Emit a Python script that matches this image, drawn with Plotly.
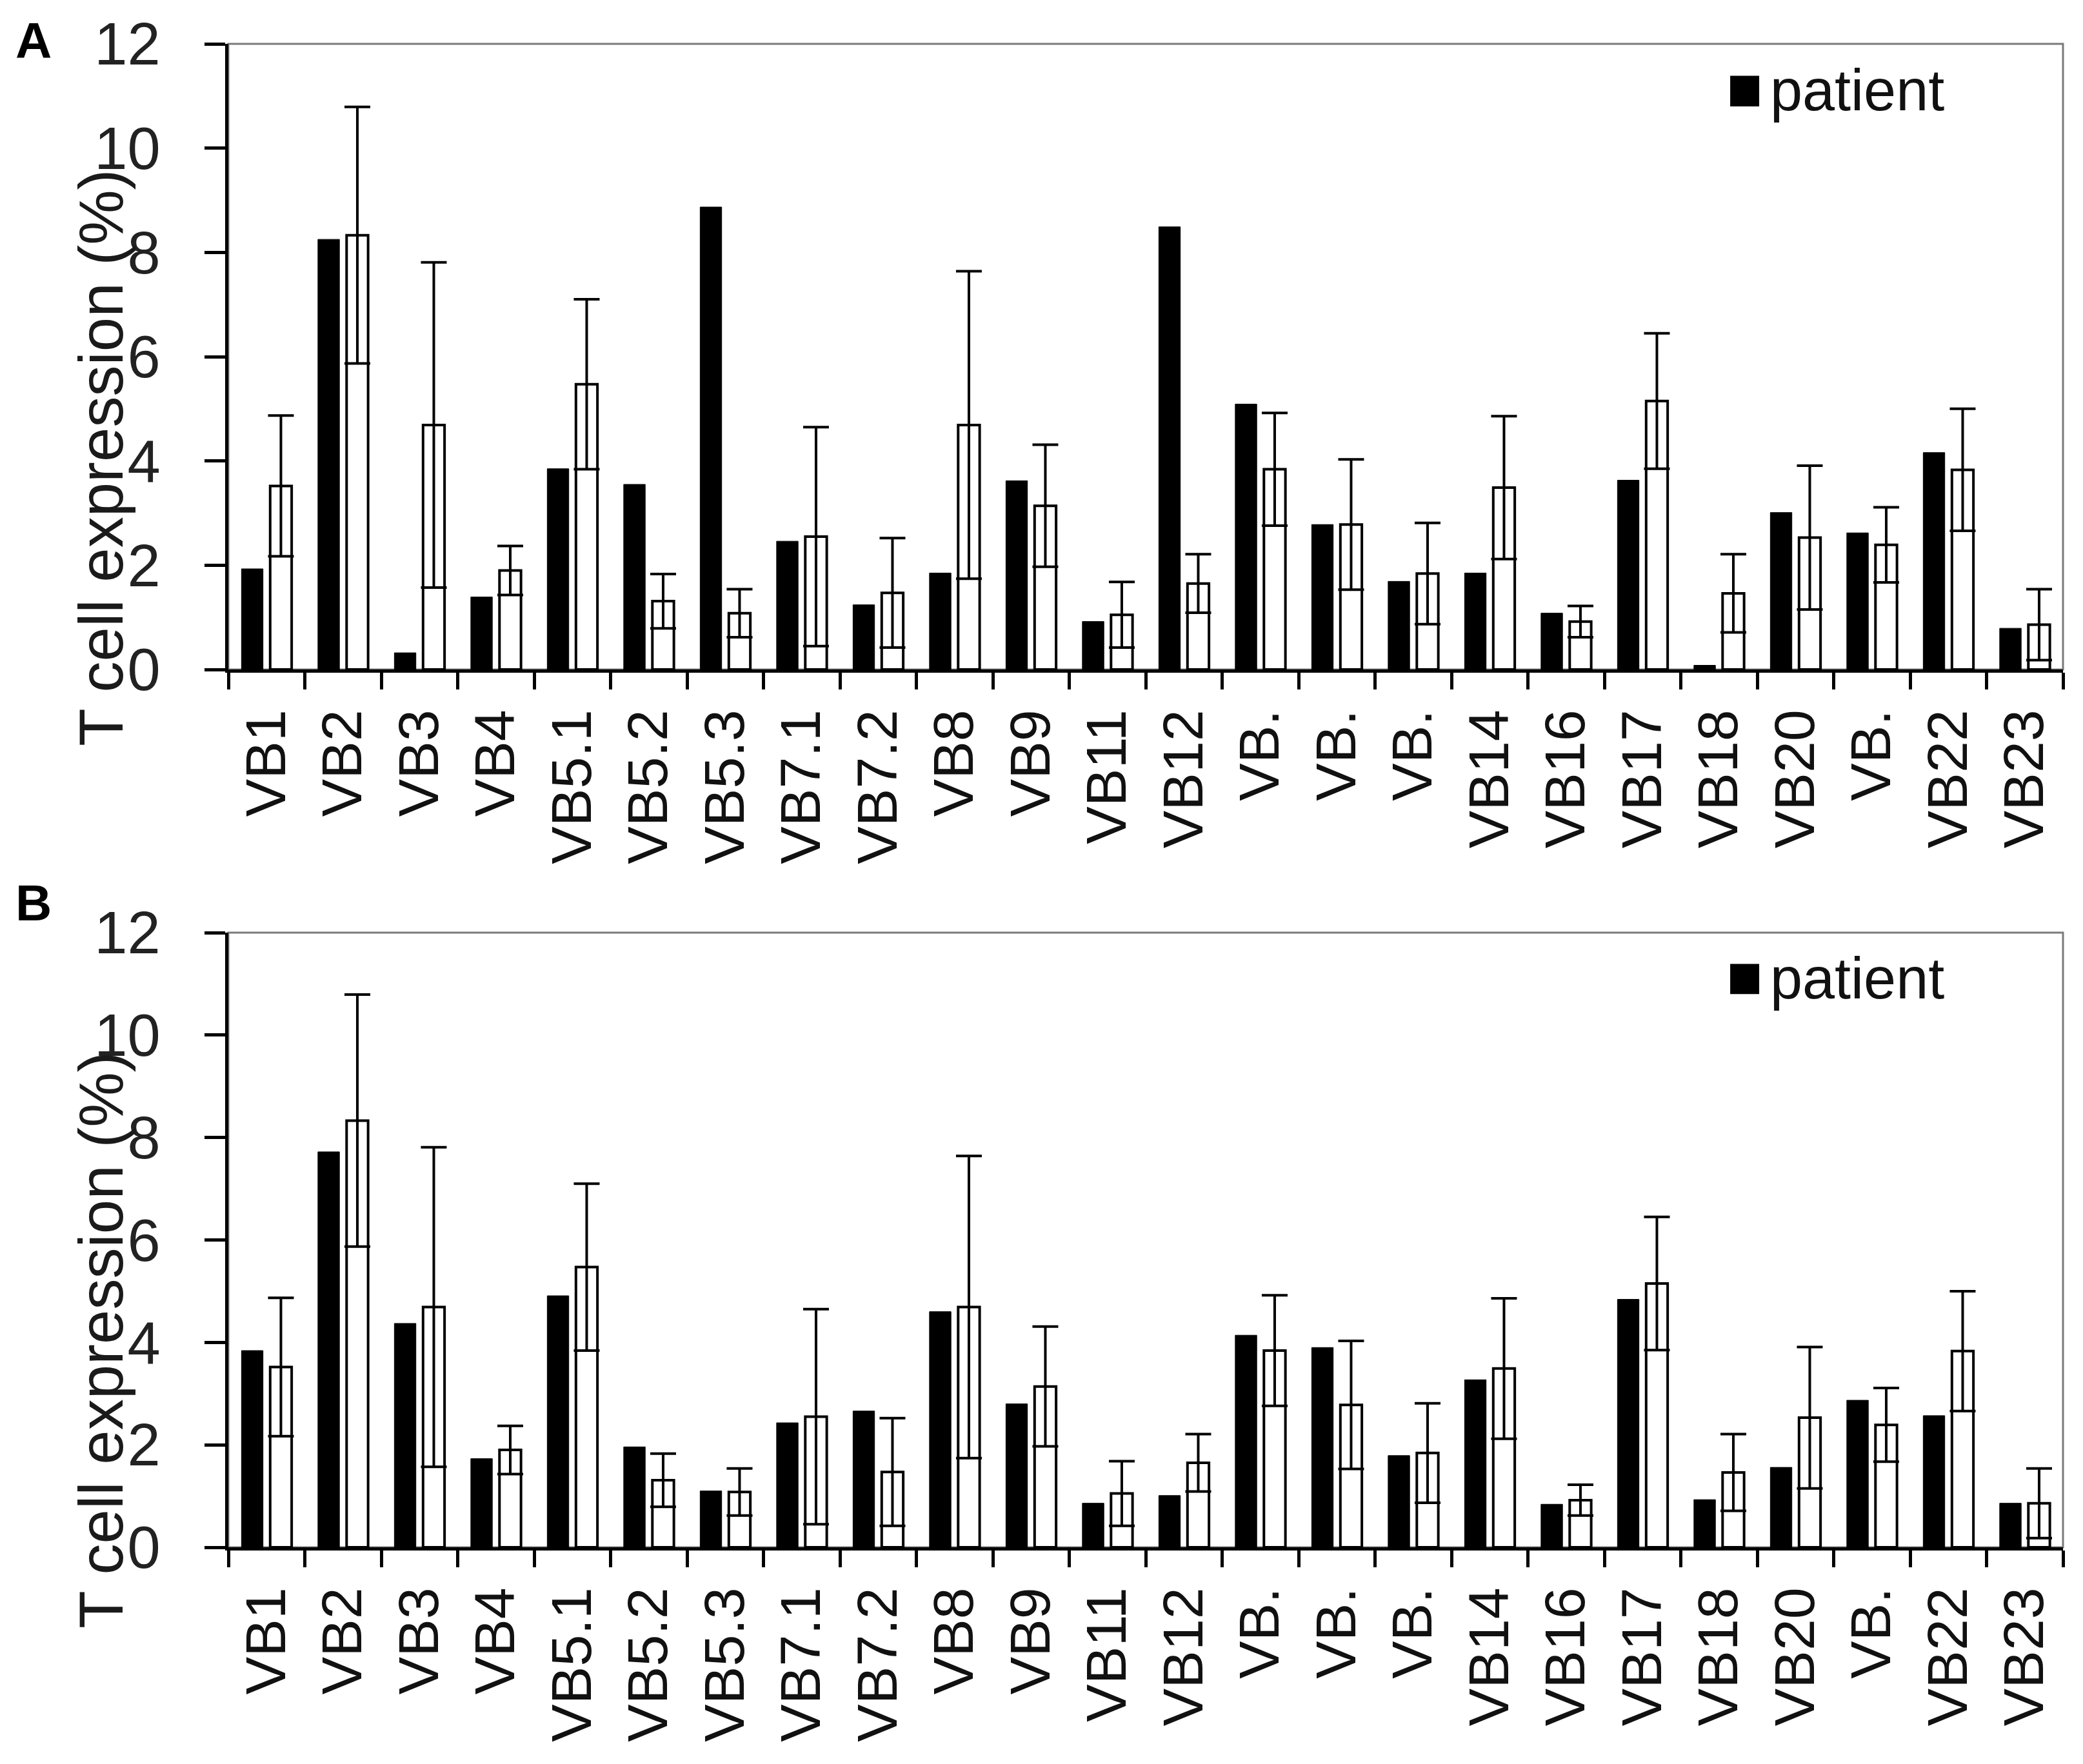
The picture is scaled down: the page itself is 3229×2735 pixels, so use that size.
import plotly.graph_objects as go
from plotly.subplots import make_subplots

# --- data ---
vb_labels = ["VB1", "VB2", "VB3", "VB4", "VB5.1", "VB5.2", "VB5.3", "VB7.1", "VB7.2",
             "VB8", "VB9", "VB11", "VB12", "VB.", "VB.", "VB.", "VB14", "VB16", "VB17",
             "VB18", "VB20", "VB.", "VB22", "VB23"]

# panel A: patient
patient_a = [1.93, 8.25, 0.32, 1.39, 3.85, 3.55, 8.87, 2.46, 1.24, 1.85, 3.62, 0.92,
             8.49, 5.09, 2.78, 1.69, 1.85, 1.08, 3.63, 0.08, 3.01, 2.62, 4.16, 0.79]
# panel B: patient
patient_b = [3.84, 7.72, 4.37, 1.73, 4.91, 1.96, 1.10, 2.43, 2.66, 4.60, 2.80, 0.86,
             1.01, 4.14, 3.90, 1.79, 3.27, 0.84, 4.84, 0.93, 1.56, 2.87, 2.57, 0.86]
# controls (same in both panels): mean and SD
control_mean = [3.52, 8.33, 4.69, 1.90, 5.47, 1.31, 1.08, 2.55, 1.47, 4.69, 3.14, 1.05,
                1.65, 3.84, 2.78, 1.84, 3.49, 0.92, 5.15, 1.46, 2.53, 2.39, 3.83, 0.86]
control_sd = [1.35, 2.46, 3.12, 0.47, 1.63, 0.52, 0.46, 2.10, 1.05, 2.95, 1.17, 0.63,
              0.56, 1.08, 1.25, 0.97, 1.37, 0.30, 1.30, 0.75, 1.38, 0.72, 1.17, 0.68]

y_ticks = [0, 2, 4, 6, 8, 10, 12]

W, H = 3229, 2735
FONT = "Liberation Sans, Arial, sans-serif"

xpos = list(range(len(vb_labels)))

fig = make_subplots(rows=2, cols=1)

for row, patient in [(1, patient_a), (2, patient_b)]:
    fig.add_trace(go.Bar(
        x=xpos, y=patient, name="patient",
        marker=dict(color="black", line=dict(color="black", width=1)),
    ), row=row, col=1)
    fig.add_trace(go.Bar(
        x=xpos, y=control_mean, name="control",
        marker=dict(color="white", line=dict(color="black", width=4)),
        error_y=dict(type="data", array=control_sd, visible=True,
                     color="black", thickness=4, width=20),
    ), row=row, col=1)

x_dom = [346 / W, 3190 / W]
y_doms = {1: [1 - 1030 / H, 1 - 60 / H], 2: [1 - 2391 / H, 1 - 1438 / H]}

for row in (1, 2):
    fig.update_xaxes(
        domain=x_dom, range=[-0.5, len(vb_labels) - 0.5],
        tickmode="array", tickvals=xpos, ticktext=vb_labels, tickangle=-90,
        ticks="", ticklabelstandoff=22,
        tickfont=dict(family=FONT, size=88, color="#111"),
        minor=dict(tickmode="linear", tick0=0.5, dtick=1, ticks="outside",
                   ticklen=26, tickwidth=5, tickcolor="black"),
        showline=True, linecolor="black", linewidth=5,
        showgrid=False, zeroline=False, automargin=False,
        row=row, col=1)
    fig.update_yaxes(
        domain=y_doms[row], range=[0, 12], tickmode="array", tickvals=y_ticks,
        ticks="outside", ticklen=32, tickwidth=5, tickcolor="black",
        ticklabelstandoff=50,
        tickfont=dict(family=FONT, size=92, color="#222"),
        showline=True, linecolor="black", linewidth=5,
        showgrid=False, zeroline=False, automargin=False,
        row=row, col=1)

shapes = []
annotations = []
for row, (xr, yr) in {1: ("x", "y"), 2: ("x2", "y2")}.items():
    # thin grey frame on top/right
    shapes.append(dict(type="rect", xref=f"{xr} domain", yref=f"{yr} domain",
                       x0=0, x1=1, y0=0, y1=1, line=dict(color="#7a7a7a", width=3),
                       layer="below"))
    # legend key
    shapes.append(dict(type="rect", xref=f"{xr} domain", yref=f"{yr} domain",
                       x0=0.8186, x1=0.8344, y0=0.900, y1=0.949,
                       fillcolor="black", line=dict(width=0)))
    annotations.append(dict(text="patient", xref=f"{xr} domain", yref=f"{yr} domain",
                            x=0.8395, y=0.926, xanchor="left", yanchor="middle",
                            showarrow=False,
                            font=dict(family=FONT, size=90, color="#111")))

# y titles
for yc in (702, 2070):
    annotations.append(dict(text="T cell expression (%)", xref="paper", yref="paper",
                            x=148 / W, y=1 - yc / H, xanchor="center", yanchor="middle",
                            textangle=-90, showarrow=False,
                            font=dict(family=FONT, size=96, color="#1a1a1a")))

# panel letters
for letter, yc in (("A", 55), ("B", 1392)):
    annotations.append(dict(text=f"<b>{letter}</b>", xref="paper", yref="paper",
                            x=14 / W, y=1 - yc / H, xanchor="left", yanchor="middle",
                            showarrow=False,
                            font=dict(family=FONT, size=78, color="black")))

fig.update_layout(
    width=W, height=H,
    margin=dict(l=0, r=0, t=0, b=0),
    barmode="group", bargap=0.25, bargroupgap=0.25,
    showlegend=False,
    plot_bgcolor="white", paper_bgcolor="white",
    shapes=shapes, annotations=annotations,
)

fig.write_html("out.html")
